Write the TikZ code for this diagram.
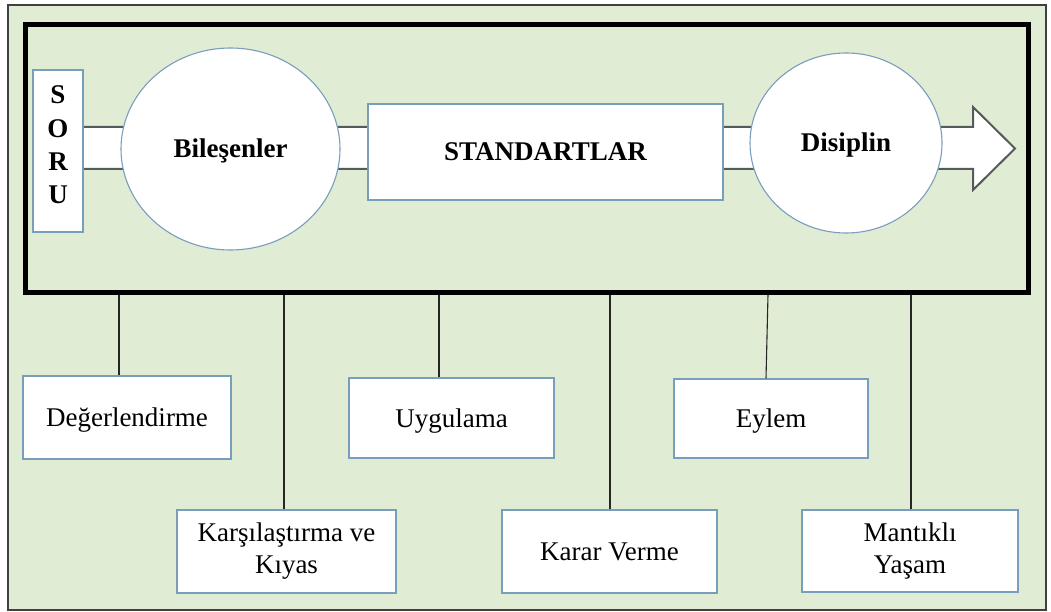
\documentclass[tikz,border=0pt]{standalone}
\usepackage{fontspec}
\setmainfont{LiberationSerif}[Extension=.ttf, UprightFont=*-Regular,
  BoldFont=*-Bold, ItalicFont=*-Italic, BoldItalicFont=*-BoldItalic]
\usetikzlibrary{shapes.geometric,calc}

\definecolor{panelgreen}{RGB}{225,236,213}
\definecolor{edgeblue}{RGB}{120,158,190}
\definecolor{shaftgray}{RGB}{85,90,90}

\tikzset{
  txt/.style={font=\fontsize{27}{32}\selectfont, align=center},
  boldtxt/.style={font=\fontsize{27}{32}\selectfont\bfseries, align=center},
  oneline/.style={text height=18pt, text depth=0pt},
  itembox/.style={draw=edgeblue, line width=1.3pt, fill=white, inner sep=0pt,
                  txt},
  bubble/.style={ellipse, draw=edgeblue, line width=1.1pt, fill=white,
                 inner sep=0pt, boldtxt, oneline},
  link/.style={draw=black!85, line width=1.1pt}
}

\begin{document}
\begin{tikzpicture}[x=1pt, y=-1pt]
  \useasboundingbox (0,0) rectangle (1051,612);

  % outer panel
  \node[draw=black!75, line width=1.2pt, fill=panelgreen, inner sep=0pt,
        minimum width=1038pt, minimum height=605pt] (panel) at (527,307.5) {};

  % thick frame around the process band
  \node[draw=black, line width=5pt, inner sep=0pt,
        minimum width=1003pt, minimum height=267pt] (frame) at (527,158.5) {};

  % wide block arrow running behind the process shapes
  \draw[fill=white, draw=shaftgray, line width=2pt, line join=miter]
    (70,127) -- (973,127) -- (973,107) -- (1015,148.5) -- (973,190)
    -- (973,169) -- (70,169) -- cycle;

  % process shapes
  \node[itembox, minimum width=50pt, minimum height=162pt] (soru) at (58,151) {};
  \node[font=\fontsize{27}{33.3}\selectfont\bfseries, align=center, inner sep=0pt]
    (sorutxt) at (58,145) {S\\O\\R\\U};
  \node[bubble, minimum width=219pt, minimum height=202pt] (bil) at (230.5,149) {Bileşenler};
  \node[itembox, boldtxt, oneline, minimum width=355pt, minimum height=96pt] (std) at (545.5,152) {STANDARTLAR};
  \node[bubble, minimum width=192pt, minimum height=180pt] (dis) at (846,143) {Disiplin};

  % lower boxes
  \node[itembox, oneline, minimum width=208pt, minimum height=83pt] (deg) at (127,417.5) {Değerlendirme};
  \node[itembox, minimum width=219pt, minimum height=83pt] (kars) at (286.5,551.5) {Karşılaştırma ve\\Kıyas};
  \node[itembox, oneline, minimum width=205pt, minimum height=80pt] (uyg) at (451.5,418) {Uygulama};
  \node[itembox, oneline, minimum width=215pt, minimum height=83pt] (karar) at (609.5,551.5) {Karar Verme};
  \node[itembox, oneline, minimum width=194pt, minimum height=79pt] (eylem) at (771,418.5) {Eylem};
  \node[itembox, minimum width=216pt, minimum height=82pt] (mant) at (910,551) {Mantıklı\\Yaşam};

  % vertical links from the frame down to the boxes
  \draw[link] ([xshift=-8pt]deg.north) -- ([xshift=-8pt]deg.north |- frame.south);
  \draw[link] ([xshift=-2.5pt]kars.north) -- ([xshift=-2.5pt]kars.north |- frame.south);
  \draw[link] ([xshift=-12.5pt]uyg.north) -- ([xshift=-12.5pt]uyg.north |- frame.south);
  \draw[link] ([xshift=0.5pt]karar.north) -- ([xshift=0.5pt]karar.north |- frame.south);
  \draw[link] ([xshift=-5pt]eylem.north) -- ([xshift=-3pt]eylem.north |- frame.south);
  \draw[link] ([xshift=1pt]mant.north) -- ([xshift=1pt]mant.north |- frame.south);
\end{tikzpicture}
\end{document}
